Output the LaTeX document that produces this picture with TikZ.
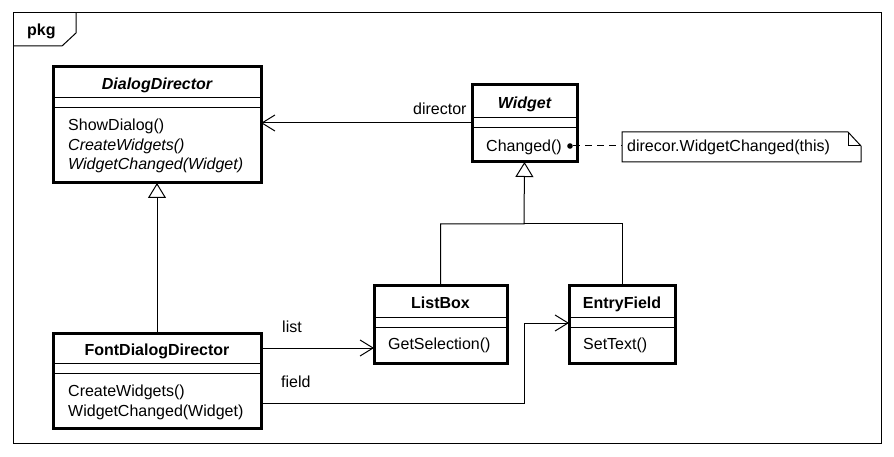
\documentclass[tikz,border=0pt]{standalone}
\usepackage{fontspec}
\setmainfont{Liberation Sans}
\usetikzlibrary{arrows.meta}
\begin{document}
\begin{tikzpicture}[x=1pt,y=-1pt,
  every node/.style={font=\fontsize{16}{19.5}\selectfont},
  classbox/.style={draw, line width=3pt, rectangle, outer sep=0pt, inner sep=0pt, fill=white},
  sep/.style={line width=1pt},
  txt/.style={anchor=base west, inner sep=0pt},
  ttl/.style={anchor=base, inner sep=0pt, font=\fontsize{16}{19.5}\selectfont\bfseries},
  assoc/.style={line width=1pt, -{Straight Barb[length=13pt,width=16pt,line width=1pt]}},
  gen/.style={line width=1pt, -{Triangle[open,length=15pt,width=18pt,line width=1pt,fill=white]}},
  conn/.style={line width=1pt}
]
\useasboundingbox (0,0) rectangle (894,457);
\fill[white] (0,0) rectangle (894,457);
% package frame
\draw[line width=1pt] (13,13) rectangle (881,443);
\draw[line width=1pt] (76,13) -- (76,33) -- (62,46) -- (13,46);
\node[txt, font=\fontsize{16}{19.5}\selectfont\bfseries] (pkg) at (27,36) {pkg};

% DialogDirector
\node[classbox, minimum width=208pt, minimum height=116pt] (dd) at (157,125) {};
\draw[sep] (53,98) -- (261,98);
\draw[sep] (53,108) -- (261,108);
\node[ttl, font=\fontsize{16}{19.5}\selectfont\bfseries\itshape] (ddt) at (157,90) {DialogDirector};
\node[txt] (dd1) at (68,131) {ShowDialog()};
\node[txt, font=\fontsize{16}{19.5}\selectfont\itshape] (dd2) at (68,150.5) {CreateWidgets()};
\node[txt, font=\fontsize{16}{19.5}\selectfont\itshape] (dd3) at (68,170) {WidgetChanged(Widget)};

% Widget
\node[classbox, minimum width=105pt, minimum height=77pt] (w) at (524.5,123.5) {};
\draw[sep] (472,118) -- (577,118);
\draw[sep] (472,128) -- (577,128);
\node[ttl, font=\fontsize{16}{19.5}\selectfont\bfseries\itshape] (wt) at (524.5,109) {Widget};
\node[txt] (w1) at (486,152) {Changed()};
\coordinate (dot) at (570,146);
\fill (dot) circle (2.8pt);

% Note
\draw[line width=1pt, fill=white] (622,132) -- (848,132) -- (861,146) -- (861,162) -- (622,162) -- cycle;
\draw[line width=1pt] (848,132) -- (848,146) -- (861,146);
\coordinate (note) at (622,146);
\node[txt] (notet) at (627,152) {direcor.WidgetChanged(this)};
\draw[line width=1pt, dash pattern=on 7pt off 5pt] ([xshift=3pt]dot) -- (note);

% ListBox
\node[classbox, minimum width=133pt, minimum height=78pt] (lb) at (440.5,324) {};
\draw[sep] (374,317) -- (507,317);
\draw[sep] (374,327) -- (507,327);
\node[ttl] (lbt) at (440.5,308) {ListBox};
\node[txt] (lb1) at (388,349) {GetSelection()};

% EntryField
\node[classbox, minimum width=106pt, minimum height=78pt] (ef) at (622,324) {};
\draw[sep] (569,317) -- (675,317);
\draw[sep] (569,327) -- (675,327);
\node[ttl] (eft) at (622,308) {EntryField};
\node[txt] (ef1) at (583,349) {SetText()};

% FontDialogDirector
\node[classbox, minimum width=208pt, minimum height=95pt] (fdd) at (157,380.5) {};
\draw[sep] (53,363) -- (261,363);
\draw[sep] (53,373) -- (261,373);
\node[ttl] (fddt) at (157,355) {FontDialogDirector};
\node[txt] (fdd1) at (68,396) {CreateWidgets()};
\node[txt] (fdd2) at (68,416) {WidgetChanged(Widget)};

% connectors
\draw[assoc] (w.west |- 0,123) -- (dd.east |- 0,123);
\node[txt] (dirl) at (413,115) {director};

\coordinate (wj) at (524,224);
\draw[gen] (lb.north) |- (wj) -- (w.south);
\draw[conn] (ef.north) |- (wj);

\draw[gen] (fdd.north) -- (dd.south);

\draw[assoc] (fdd.east |- 0,348) -- (lb.west |- 0,348);
\node[txt] (listl) at (282,332) {list};

\coordinate (fc) at (524,323);
\draw[assoc] (fdd.east |- 0,403) -| (fc) -- (ef.west |- fc);
\node[txt] (fieldl) at (281,387) {field};
\end{tikzpicture}
\end{document}
